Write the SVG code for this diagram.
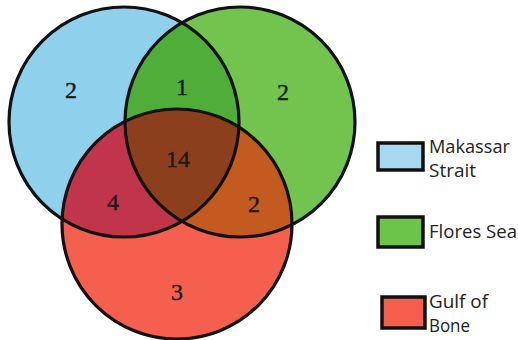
<svg xmlns="http://www.w3.org/2000/svg" width="518" height="340" viewBox="0 0 518 340">
<style>
.outline{fill:none;stroke:#111;stroke-width:3.2}
.num{font-family:"Liberation Serif",serif;font-size:24px;fill:#1a1a1a;stroke:#1a1a1a;stroke-width:0.4;text-anchor:middle}
.lbl{font-family:"Open Sans","DejaVu Sans",sans-serif;font-size:19px;fill:#222}
.box{stroke:#111;stroke-width:3.5}
</style>
<defs>
<clipPath id="cB"><circle cx="124" cy="122" r="115"/></clipPath>
<clipPath id="cG"><circle cx="240" cy="122" r="115"/></clipPath>
</defs>
<rect width="518" height="340" fill="#fff"/>
<g id="venn">
<circle cx="124" cy="122" r="115" fill="#8fd0ec"/>
<circle cx="240" cy="122" r="115" fill="#72c44e"/>
<circle cx="177" cy="224" r="115" fill="#f5604e"/>
<circle cx="240" cy="122" r="115" fill="#4fad3a" clip-path="url(#cB)"/>
<circle cx="177" cy="224" r="115" fill="#c0354a" clip-path="url(#cB)"/>
<circle cx="177" cy="224" r="115" fill="#c35a1f" clip-path="url(#cG)"/>
<g clip-path="url(#cG)"><circle cx="177" cy="224" r="115" fill="#8c3f1c" clip-path="url(#cB)"/></g>
<circle class="outline" cx="124" cy="122" r="115"/>
<circle class="outline" cx="240" cy="122" r="115"/>
<circle class="outline" cx="177" cy="224" r="115"/>
</g>
<g id="numbers">
<text class="num" x="71" y="98">2</text>
<text class="num" x="182" y="95">1</text>
<text class="num" x="283" y="100">2</text>
<text class="num" x="178" y="167">14</text>
<text class="num" x="113" y="210">4</text>
<text class="num" x="254" y="212">2</text>
<text class="num" x="177" y="300">3</text>
</g>
<g id="legend-makassar">
<rect class="box" x="378" y="143" width="45" height="27" fill="#a8d8f0"/>
<text class="lbl" x="429" y="153" textLength="81" lengthAdjust="spacingAndGlyphs">Makassar</text>
<text class="lbl" x="429" y="177" textLength="47" lengthAdjust="spacingAndGlyphs">Strait</text>
</g>
<g id="legend-flores">
<rect class="box" x="378" y="217" width="45" height="30" fill="#6cc44a"/>
<text class="lbl" x="429" y="238" textLength="88" lengthAdjust="spacingAndGlyphs">Flores Sea</text>
</g>
<g id="legend-gulf">
<rect class="box" x="382" y="297" width="43" height="31" fill="#f5604e"/>
<text class="lbl" x="429" y="308" textLength="59" lengthAdjust="spacingAndGlyphs">Gulf of</text>
<text class="lbl" x="429" y="332" textLength="41" lengthAdjust="spacingAndGlyphs">Bone</text>
</g>
</svg>
